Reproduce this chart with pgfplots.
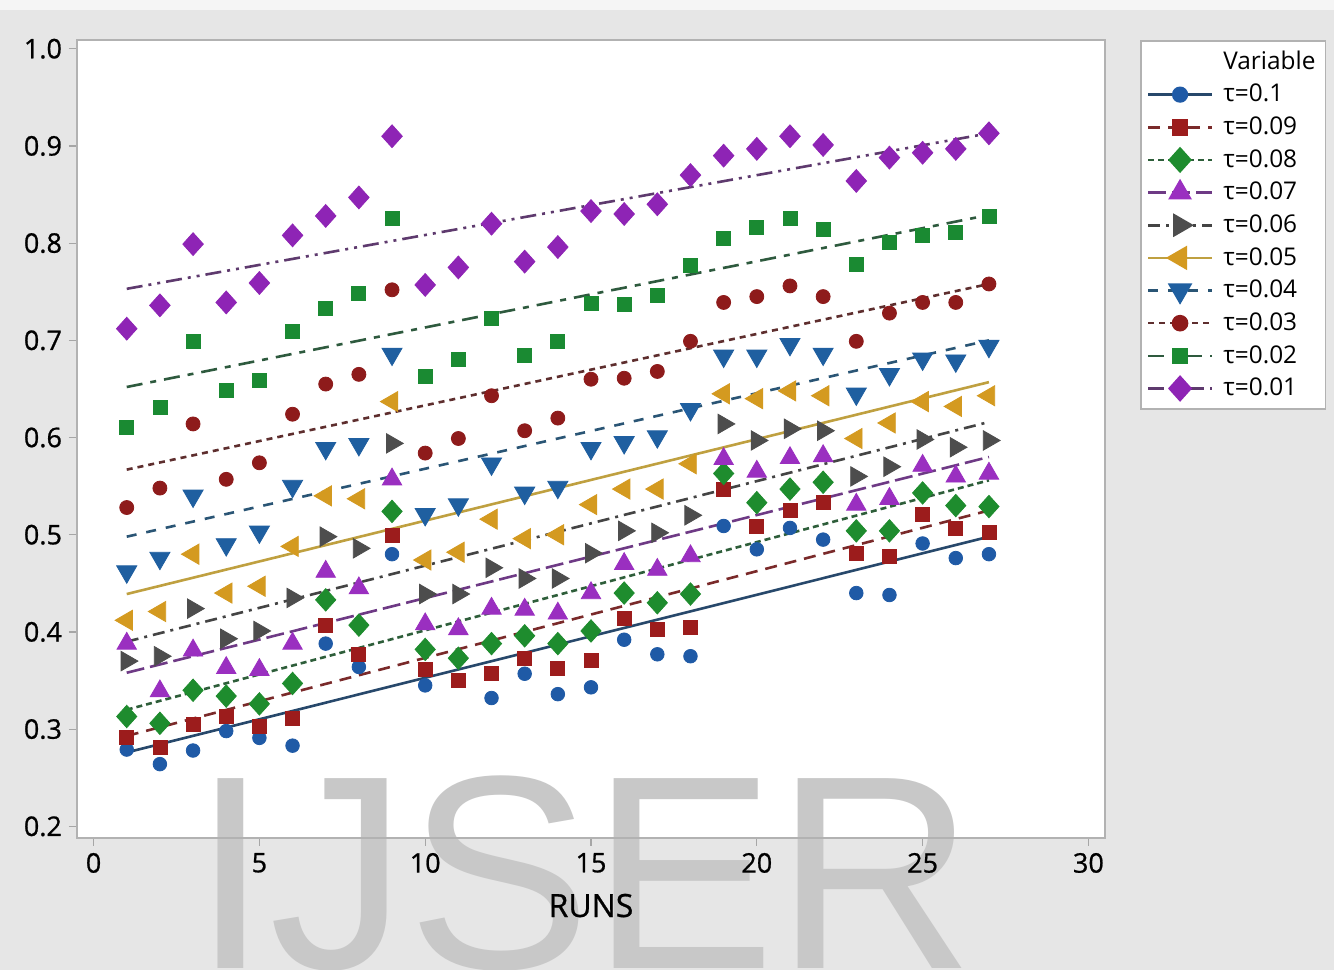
\documentclass[border=0pt]{standalone}
\usepackage{pgfplots}
\pgfplotsset{compat=1.18}
\usepackage{pgfplotstable}
\usepackage{fontspec}
\setmainfont{Open Sans}
\newfontfamily\semib{Open Sans}[FakeBold=0.8]
\newfontfamily\wmfont{Liberation Sans}

\definecolor{bg}{HTML}{E6E6E6}
\definecolor{wm}{HTML}{C8C8C8}
\definecolor{c1}{HTML}{1F5AA6}\definecolor{d1}{HTML}{27486B}
\definecolor{c2}{HTML}{9C1C1C}\definecolor{d2}{HTML}{7A2A2A}
\definecolor{c3}{HTML}{1E8C2E}\definecolor{d3}{HTML}{2E5E3A}
\definecolor{c4}{HTML}{9A2FC0}\definecolor{d4}{HTML}{6E3A85}
\definecolor{c5}{HTML}{4D4D4D}\definecolor{d5}{HTML}{444444}
\definecolor{c6}{HTML}{D49A20}\definecolor{d6}{HTML}{BFA040}
\definecolor{c7}{HTML}{1F5FA0}\definecolor{d7}{HTML}{2A5575}
\definecolor{c8}{HTML}{8E1B1B}\definecolor{d8}{HTML}{5E2E2E}
\definecolor{c9}{HTML}{1A8A32}\definecolor{d9}{HTML}{2E5A3E}
\definecolor{c10}{HTML}{8E24B5}\definecolor{d10}{HTML}{5E3A6E}

\pgfplotstableread{
run a b c d e f g h i j
1 0.279 0.292 0.313 0.388 0.370 0.412 0.462 0.528 0.610 0.712
2 0.264 0.281 0.306 0.339 0.375 0.421 0.476 0.548 0.631 0.736
3 0.278 0.305 0.340 0.381 0.424 0.480 0.540 0.614 0.699 0.799
4 0.298 0.313 0.334 0.363 0.393 0.440 0.490 0.557 0.648 0.739
5 0.291 0.303 0.326 0.361 0.401 0.447 0.503 0.574 0.659 0.759
6 0.283 0.311 0.347 0.388 0.435 0.488 0.550 0.624 0.709 0.808
7 0.388 0.407 0.433 0.462 0.498 0.540 0.589 0.655 0.733 0.828
8 0.364 0.377 0.407 0.445 0.486 0.537 0.593 0.665 0.748 0.847
9 0.480 0.499 0.524 0.557 0.594 0.637 0.686 0.752 0.825 0.910
10 0.345 0.361 0.382 0.408 0.439 0.474 0.521 0.584 0.663 0.757
11 0.350 0.350 0.373 0.403 0.439 0.482 0.531 0.599 0.680 0.775
12 0.332 0.357 0.388 0.424 0.466 0.516 0.573 0.643 0.723 0.820
13 0.357 0.373 0.396 0.423 0.455 0.496 0.543 0.607 0.685 0.781
14 0.336 0.363 0.388 0.419 0.455 0.500 0.549 0.620 0.699 0.796
15 0.343 0.371 0.401 0.440 0.481 0.531 0.589 0.660 0.738 0.833
16 0.392 0.414 0.440 0.470 0.504 0.547 0.595 0.661 0.737 0.830
17 0.377 0.403 0.430 0.464 0.502 0.547 0.601 0.668 0.746 0.840
18 0.375 0.405 0.439 0.478 0.520 0.573 0.629 0.699 0.777 0.870
19 0.509 0.547 0.563 0.578 0.614 0.645 0.684 0.739 0.805 0.890
20 0.485 0.509 0.533 0.565 0.597 0.640 0.684 0.745 0.816 0.897
21 0.507 0.525 0.547 0.579 0.609 0.648 0.696 0.756 0.825 0.910
22 0.495 0.533 0.554 0.581 0.607 0.643 0.686 0.745 0.814 0.901
23 0.440 0.481 0.504 0.531 0.560 0.599 0.645 0.699 0.778 0.864
24 0.438 0.478 0.504 0.537 0.570 0.615 0.665 0.728 0.801 0.888
25 0.491 0.521 0.543 0.571 0.598 0.637 0.681 0.739 0.808 0.893
26 0.476 0.507 0.530 0.560 0.590 0.632 0.679 0.739 0.811 0.897
27 0.480 0.502 0.529 0.563 0.597 0.643 0.694 0.758 0.828 0.913
}\data

\pgfplotsset{
 m1/.style={mark=*, mark size=3.4bp, mark options={solid, draw=c1, fill=c1}},
 m2/.style={mark=square*, mark size=3.5bp, mark options={solid, draw=c2, fill=c2}},
 m3/.style={mark=diamond*, mark size=5.6bp, mark options={solid, xscale=1.2, draw=c3, fill=c3}},
 m4/.style={mark=triangle*, mark size=5.6bp, mark options={solid, draw=c4, fill=c4}},
 m5/.style={mark=triangle*, mark size=5.6bp, mark options={solid, rotate=-90, draw=c5, fill=c5}},
 m6/.style={mark=triangle*, mark size=5.8bp, mark options={solid, rotate=90, draw=c6, fill=c6}},
 m7/.style={mark=triangle*, mark size=5.8bp, mark options={solid, rotate=180, draw=c7, fill=c7}},
 m8/.style={mark=*, mark size=3.5bp, mark options={solid, draw=c8, fill=c8}},
 m9/.style={mark=square*, mark size=3.5bp, mark options={solid, draw=c9, fill=c9}},
 m10/.style={mark=diamond*, mark size=5.7bp, mark options={solid, xscale=1.2, draw=c10, fill=c10}},
 l1/.style={d1, line width=1.3bp, solid},
 l2/.style={d2, line width=1.3bp, dash pattern=on 6bp off 4bp},
 l3/.style={d3, line width=1.3bp, dash pattern=on 3bp off 2bp},
 l4/.style={d4, line width=1.3bp, dash pattern=on 9bp off 3bp},
 l5/.style={d5, line width=1.3bp, dash pattern=on 6bp off 3bp on 1.5bp off 3bp},
 l6/.style={d6, line width=1.3bp, solid},
 l7/.style={d7, line width=1.3bp, dash pattern=on 5bp off 5bp},
 l8/.style={d8, line width=1.3bp, dash pattern=on 3bp off 2.5bp},
 l9/.style={d9, line width=1.3bp, dash pattern=on 8bp off 4bp on 3bp off 4bp},
 l10/.style={d10, line width=1.3bp, dash pattern=on 8bp off 3bp on 1.5bp off 3bp on 1.5bp off 3bp},
}

\begin{document}
\begin{tikzpicture}
\useasboundingbox (0,0) rectangle (667bp,485bp);
\fill[bg] (0,0) rectangle (667bp,485bp);
\fill[white!60!bg] (0,480bp) rectangle (667bp,485bp);
\fill[white] (38.5bp,66bp) rectangle (552.5bp,465bp);
\node[anchor=north west, inner sep=0pt, text=wm, font=\wmfont\fontsize{138bp}{140bp}\selectfont] at (96bp,97.5bp) {IJSER};
\begin{axis}[
 at={(38.5bp,66bp)}, anchor=south west,
 scale only axis, width=514bp, height=399bp,
 xmin=-0.5, xmax=30.5, ymin=0.188, ymax=1.009,
 xtick={0,5,10,15,20,25,30},
 ytick={0.2,0.3,0.4,0.5,0.6,0.7,0.8,0.9,1.0},
 yticklabel style={/pgf/number format/.cd, fixed, fixed zerofill, precision=1},
 /pgf/number format/assume math mode=true,
 tick label style={font=\semib\fontsize{13.5bp}{16bp}\selectfont, black},
 tick align=outside, tick pos=left, major tick length=4bp,
 every tick/.style={gray!70, line width=0.6bp},
 axis line style={gray!60, line width=0.8bp},
 xlabel={RUNS},
 xlabel style={font=\semib\fontsize{16bp}{19bp}\selectfont, at={(axis description cs:0.5,-0.099)}, anchor=base},
 legend style={at={(1.034,1)}, anchor=north west, draw=gray!60, line width=0.8bp, fill=white,
   font=\fontsize{12.2bp}{14bp}\selectfont, inner xsep=3bp, inner ysep=3bp, row sep=2.0bp, column sep=3bp},
 legend cell align=left,
 legend image code/.code={\draw[mark repeat=2,mark phase=2] plot coordinates {(0bp,0bp) (16bp,0bp) (32bp,0bp)};},
]
\addlegendimage{empty legend}\addlegendentry{Variable}
\addplot[l1, forget plot] coordinates {(1,0.276) (27,0.498)};
\addplot[l2, forget plot] coordinates {(1,0.293) (27,0.525)};
\addplot[l3, forget plot] coordinates {(1,0.320) (27,0.556)};
\addplot[l4, forget plot] coordinates {(1,0.358) (27,0.580)};
\addplot[l5, forget plot] coordinates {(1,0.390) (27,0.616)};
\addplot[l6, forget plot] coordinates {(1,0.439) (27,0.657)};
\addplot[l7, forget plot] coordinates {(1,0.498) (27,0.700)};
\addplot[l8, forget plot] coordinates {(1,0.567) (27,0.758)};
\addplot[l9, forget plot] coordinates {(1,0.652) (27,0.829)};
\addplot[l10, forget plot] coordinates {(1,0.753) (27,0.913)};
\addplot[only marks, m1, forget plot] table[x=run, y=a] {\data};
\addplot[only marks, m2, forget plot] table[x=run, y=b] {\data};
\addplot[only marks, m3, forget plot] table[x=run, y=c] {\data};
\addplot[only marks, m4, forget plot] table[x=run, y=d] {\data};
\addplot[only marks, m5, forget plot] table[x=run, y=e] {\data};
\addplot[only marks, m6, forget plot] table[x=run, y=f] {\data};
\addplot[only marks, m7, forget plot] table[x=run, y=g] {\data};
\addplot[only marks, m8, forget plot] table[x=run, y=h] {\data};
\addplot[only marks, m9, forget plot] table[x=run, y=i] {\data};
\addplot[only marks, m10, forget plot] table[x=run, y=j] {\data};
\addlegendimage{l1, m1}\addlegendentry{τ=0.1}
\addlegendimage{l2, m2}\addlegendentry{τ=0.09}
\addlegendimage{l3, m3}\addlegendentry{τ=0.08}
\addlegendimage{l4, m4}\addlegendentry{τ=0.07}
\addlegendimage{l5, m5}\addlegendentry{τ=0.06}
\addlegendimage{l6, m6}\addlegendentry{τ=0.05}
\addlegendimage{l7, m7}\addlegendentry{τ=0.04}
\addlegendimage{l8, m8}\addlegendentry{τ=0.03}
\addlegendimage{l9, m9}\addlegendentry{τ=0.02}
\addlegendimage{l10, m10}\addlegendentry{τ=0.01}
\end{axis}
\end{tikzpicture}
\end{document}
